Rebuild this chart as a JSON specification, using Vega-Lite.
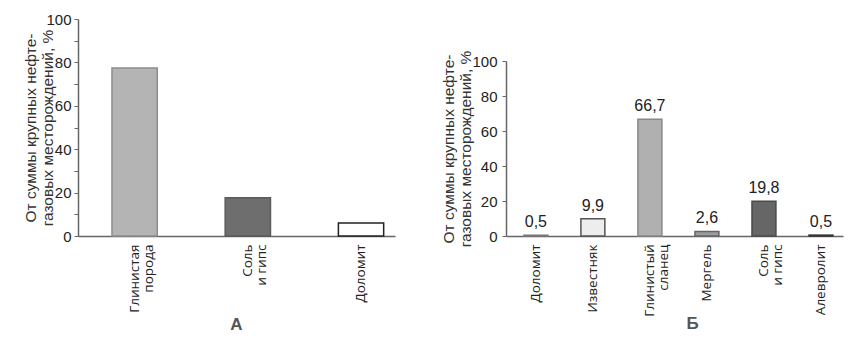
{
  "$schema": "https://vega.github.io/schema/vega-lite/v6.json",
  "background": "white",
  "padding": {"left": 23, "top": 12, "right": 5, "bottom": 5},
  "spacing": 46,
  "resolve": {"scale": {"fill": "independent", "stroke": "independent"}},
  "config": {
    "view": {"stroke": null},
    "font": "Liberation Sans",
    "locale": {"number": {"decimal": ",", "thousands": " ", "grouping": [3], "currency": ["", ""]}}
  },
  "datasets": {
    "a": [
      {"rock": "Глинистая|порода", "share": 77.4},
      {"rock": "Соль|и гипс", "share": 17.6},
      {"rock": "Доломит", "share": 6.0}
    ],
    "b": [
      {"rock": "Доломит", "share": 0.5},
      {"rock": "Известняк", "share": 9.9},
      {"rock": "Глинистый|сланец", "share": 66.7},
      {"rock": "Мергель", "share": 2.6},
      {"rock": "Соль|и гипс", "share": 19.8},
      {"rock": "Алевролит", "share": 0.5}
    ]
  },
  "hconcat": [
    {
      "width": 317,
      "height": 217,
      "data": {"name": "a"},
      "mark": {"type": "bar", "strokeWidth": 1.5},
      "encoding": {
        "x": {
          "field": "rock", "type": "nominal", "sort": null,
          "scale": {"paddingInner": 0.6, "paddingOuter": 0.2, "align": 0.75},
          "axis": {
            "title": "А", "labelExpr": "split(datum.label, '|')", "labelAngle": -90,
            "labelFont": "Open Sans", "labelFontSize": 13.5, "labelLineHeight": 14, "labelColor": "#222",
            "ticks": false, "labelPadding": 8, "domainColor": "#666", "domainWidth": 1.5,
            "titleFontSize": 17, "titleFontWeight": "bold", "titleColor": "#555",
            "titleX": 158, "titleY": 93, "titleBaseline": "alphabetic", "titleAlign": "center"
          }
        },
        "y": {
          "field": "share", "type": "quantitative", "scale": {"domain": [0, 100]},
          "axis": {
            "title": ["От суммы крупных нефте-", "газовых месторождений, %"],
            "values": [0, 10, 20, 30, 40, 50, 60, 70, 80, 90, 100],
            "labelExpr": "datum.value % 20 == 0 ? datum.label : ''",
            "grid": false, "tickSize": 4, "tickColor": "#666", "domainColor": "#666", "domainWidth": 1.5,
            "labelFontSize": 15, "labelColor": "#222", "labelPadding": 3,
            "titleFontSize": 15.5, "titleFontWeight": "normal", "titleColor": "#333", "titleLineHeight": 17, "titlePadding": -10
          }
        },
        "fill": {
          "field": "rock", "type": "nominal", "legend": null,
          "scale": {"domain": ["Глинистая|порода", "Соль|и гипс", "Доломит"], "range": ["#b4b4b4", "#6e6e6e", "#ffffff"]}
        },
        "stroke": {
          "field": "rock", "type": "nominal", "legend": null,
          "scale": {"domain": ["Глинистая|порода", "Соль|и гипс", "Доломит"], "range": ["#8c8c8c", "#5a5a5a", "#222222"]}
        }
      }
    },
    {
      "spacing": 20,
      "vconcat": [
        {
          "width": 337,
          "height": 11,
          "data": {"values": []},
          "mark": "point",
          "encoding": {}
        },
        {
          "width": 337,
          "height": 175,
          "data": {"name": "b"},
          "encoding": {
            "x": {
              "field": "rock", "type": "nominal", "sort": null,
              "scale": {"paddingInner": 0.58, "paddingOuter": 0.245, "align": 0.64},
              "axis": {
                "title": "Б", "labelExpr": "split(datum.label, '|')", "labelAngle": -90,
                "labelFont": "Open Sans", "labelFontSize": 13.5, "labelLineHeight": 14, "labelColor": "#222",
                "ticks": false, "labelPadding": 8, "domainColor": "#666", "domainWidth": 1.5,
                "titleFontSize": 17, "titleFontWeight": "bold", "titleColor": "#555",
                "titleX": 186, "titleY": 92, "titleBaseline": "alphabetic", "titleAlign": "center"
              }
            },
            "y": {
              "field": "share", "type": "quantitative", "scale": {"domain": [0, 100]},
              "axis": {
                "title": ["От суммы крупных нефте-", "газовых месторождений, %"],
                "values": [0, 20, 40, 60, 80, 100],
                "grid": false, "tickSize": 4, "tickColor": "#666", "domainColor": "#666", "domainWidth": 1.5,
                "labelFontSize": 15, "labelColor": "#222", "labelPadding": 5,
                "titleFontSize": 15.5, "titleFontWeight": "normal", "titleColor": "#333", "titleLineHeight": 17, "titlePadding": -2
              }
            }
          },
          "layer": [
            {
              "mark": {"type": "bar", "strokeWidth": 1.5},
              "encoding": {
                "fill": {
                  "field": "rock", "type": "nominal", "legend": null,
                  "scale": {"domain": ["Доломит", "Известняк", "Глинистый|сланец", "Мергель", "Соль|и гипс", "Алевролит"], "range": ["#a9a9a9", "#ededed", "#b0b0b0", "#9c9c9c", "#666666", "#c4c4c4"]}
                },
                "stroke": {
                  "field": "rock", "type": "nominal", "legend": null,
                  "scale": {"domain": ["Доломит", "Известняк", "Глинистый|сланец", "Мергель", "Соль|и гипс", "Алевролит"], "range": ["#777777", "#555555", "#888888", "#666666", "#4a4a4a", "#333333"]}
                }
              }
            },
            {
              "mark": {"type": "text", "baseline": "bottom", "dy": -5, "fontSize": 16, "color": "#222"},
              "encoding": {
                "text": {"field": "share", "type": "quantitative", "format": ".1f"}
              }
            }
          ]
        }
      ]
    }
  ]
}
